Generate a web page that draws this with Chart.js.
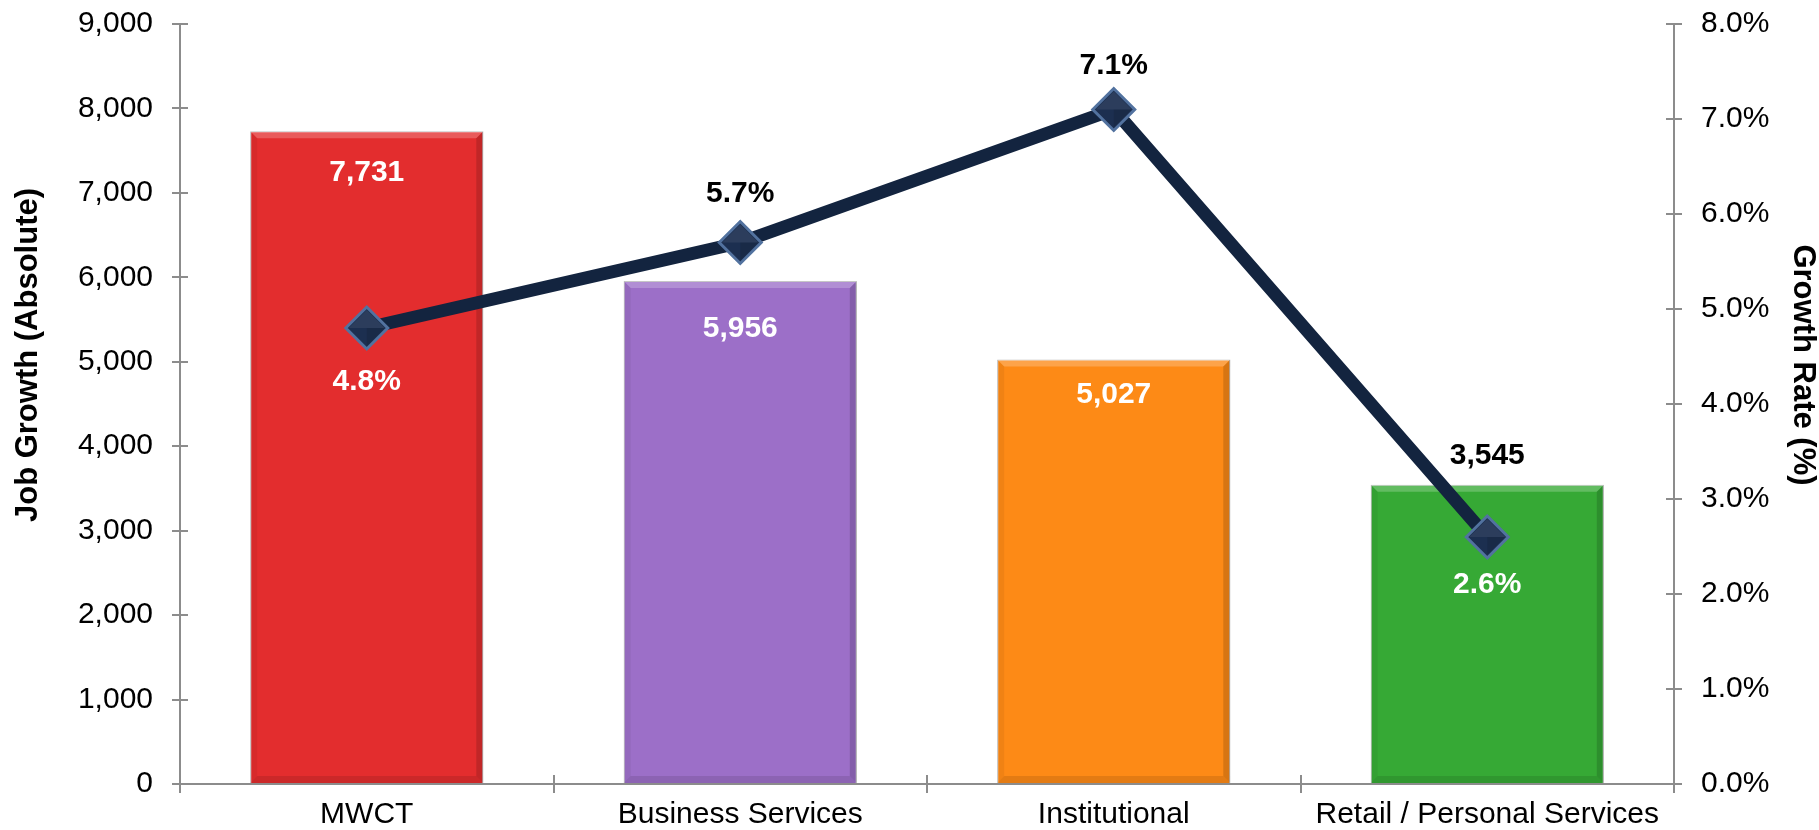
<!DOCTYPE html>
<html>
<head>
<meta charset="utf-8">
<script src="https://cdn.jsdelivr.net/npm/chart.js@4.4.1/dist/chart.umd.min.js"></script>
<style>
  html, body { margin: 0; padding: 0; background: #fff; }
</style>
</head>
<body>
<canvas id="jobsChart" width="1819" height="830"></canvas>
<script>
// --- Data ---
const categories = ['MWCT', 'Business Services', 'Institutional', 'Retail / Personal Services'];
const jobGrowth = [7731, 5956, 5027, 3545];
const growthRate = [4.8, 5.7, 7.1, 2.6];
const barColors = ['#e32d2e', '#9c6fc8', '#fd8a16', '#36a935'];
const jobAxis = { min: 0, max: 9000, step: 1000 };
const rateAxis = { min: 0, max: 8, step: 1 };

const FONT = '"Liberation Sans", Arial, sans-serif';
const AXIS_GRAY = '#8c8c8c';

// label placement: offset from bar top / point centre
const barLabelOffset = [42, 48, 35, -29];
const rateLabelOffset = [54, -49, -44, 48];

function poly(ctx, pts) {
    ctx.beginPath();
    ctx.moveTo(pts[0][0], pts[0][1]);
    for (let i = 1; i < pts.length; i++) ctx.lineTo(pts[i][0], pts[i][1]);
    ctx.closePath();
    ctx.fill();
}

// bevelled edges on each bar (light top, darker sides/bottom)
const barBevel = {
    id: 'barBevel',
    afterDatasetDraw(chart, args) {
        const ctx = chart.ctx;
        if (args.meta.type === 'bar') {
            const b = 7;
            args.meta.data.forEach(bar => {
                const l = bar.x - bar.width / 2, r = bar.x + bar.width / 2;
                const t = bar.y, btm = bar.base;
                ctx.save();
                ctx.fillStyle = 'rgba(255,255,255,0.22)';
                poly(ctx, [[l, t], [r, t], [r - b, t + b], [l + b, t + b]]);
                ctx.fillStyle = 'rgba(0,0,0,0.15)';
                poly(ctx, [[r, t], [r, btm], [r - b, btm - b], [r - b, t + b]]);
                ctx.fillStyle = 'rgba(0,0,0,0.05)';
                poly(ctx, [[l, t], [l + b, t + b], [l + b, btm - b], [l, btm]]);
                ctx.fillStyle = 'rgba(0,0,0,0.10)';
                poly(ctx, [[l, btm], [l + b, btm - b], [r - b, btm - b], [r, btm]]);
                ctx.restore();
            });
        } else if (args.meta.type === 'line') {
            // faint facets so the diamonds read as little pyramids
            args.meta.data.forEach(pt => {
                const r = pt.options.radius - 3;
                ctx.save();
                ctx.fillStyle = 'rgba(255,255,255,0.07)';
                poly(ctx, [[pt.x - r, pt.y], [pt.x, pt.y - r], [pt.x + r, pt.y], [pt.x, pt.y]]);
                ctx.fillStyle = 'rgba(0,0,0,0.10)';
                poly(ctx, [[pt.x, pt.y], [pt.x + r, pt.y], [pt.x, pt.y + r]]);
                ctx.restore();
            });
        }
    }
};

// tick marks that cross the axis lines
const crossTicks = {
    id: 'crossTicks',
    afterDraw(chart) {
        const { ctx, chartArea, scales } = chart;
        ctx.save();
        ctx.strokeStyle = AXIS_GRAY;
        ctx.lineWidth = 2;
        ctx.beginPath();
        scales.y.ticks.forEach((t, i) => {
            const py = Math.round(scales.y.getPixelForTick(i));
            ctx.moveTo(chartArea.left, py);
            ctx.lineTo(chartArea.left + 8, py);
        });
        scales.y1.ticks.forEach((t, i) => {
            const py = Math.round(scales.y1.getPixelForTick(i));
            ctx.moveTo(chartArea.right - 8, py);
            ctx.lineTo(chartArea.right, py);
        });
        const x = scales.x;
        const step = x.getPixelForTick(1) - x.getPixelForTick(0);
        for (let i = 0; i <= categories.length; i++) {
            const px = Math.round(x.getPixelForTick(0) - step / 2 + i * step);
            ctx.moveTo(px, chartArea.bottom);
            ctx.lineTo(px, chartArea.bottom - 9);
        }
        ctx.stroke();
        ctx.restore();
    }
};

// axis titles, rotated on both sides
const axisTitles = {
    id: 'axisTitles',
    afterDraw(chart) {
        const { ctx, chartArea } = chart;
        const midY = (chartArea.top + chartArea.bottom) / 2;
        ctx.save();
        ctx.font = 'bold 31px ' + FONT;
        ctx.fillStyle = '#000';
        ctx.textAlign = 'center';
        ctx.textBaseline = 'middle';

        ctx.save();
        ctx.translate(28, midY - 49);
        ctx.rotate(-Math.PI / 2);
        ctx.fillText('Job Growth (Absolute)', 0, 0);
        ctx.restore();

        ctx.save();
        ctx.translate(chart.width - 16, midY - 39);
        ctx.rotate(Math.PI / 2);
        ctx.fillText('Growth Rate (%)', 0, 0);
        ctx.restore();

        ctx.restore();
    }
};

// value labels on bars and line points
const valueLabels = {
    id: 'valueLabels',
    afterDatasetsDraw(chart) {
        const ctx = chart.ctx;
        const points = chart.getDatasetMeta(0).data;
        const bars = chart.getDatasetMeta(1).data;
        ctx.save();
        ctx.font = 'bold 30px ' + FONT;
        ctx.textAlign = 'center';
        ctx.textBaseline = 'middle';
        bars.forEach((bar, i) => {
            ctx.fillStyle = barLabelOffset[i] > 0 ? '#fff' : '#000';
            ctx.fillText(jobGrowth[i].toLocaleString('en-US'), bar.x, bar.y + barLabelOffset[i]);
        });
        points.forEach((pt, i) => {
            ctx.fillStyle = rateLabelOffset[i] > 0 ? '#fff' : '#000';
            ctx.fillText(growthRate[i].toFixed(1) + '%', pt.x, pt.y + rateLabelOffset[i]);
        });
        ctx.restore();
    }
};

const tickFont = { family: FONT, size: 30 };

new Chart(document.getElementById('jobsChart'), {
    type: 'bar',
    data: {
        labels: categories,
        datasets: [{
            type: 'line',
            label: 'Growth Rate',
            data: growthRate,
            yAxisID: 'y1',
            order: 0,
            borderColor: '#13243f',
            borderWidth: 13,
            tension: 0,
            pointStyle: 'rectRot',
            pointRadius: 21,
            pointHoverRadius: 21,
            pointBackgroundColor: '#1c2f50',
            pointBorderColor: '#52729f',
            pointBorderWidth: 3
        }, {
            type: 'bar',
            label: 'Job Growth',
            data: jobGrowth,
            yAxisID: 'y',
            order: 1,
            backgroundColor: barColors,
            borderColor: 'rgba(90,90,90,0.45)',
            borderWidth: 1,
            borderSkipped: 'bottom',
            barPercentage: 0.624,
            categoryPercentage: 1
        }]
    },
    options: {
        responsive: false,
        animation: false,
        layout: { autoPadding: false, padding: { top: 24, left: 0, right: 0, bottom: 0 } },
        plugins: {
            legend: { display: false },
            tooltip: { enabled: false }
        },
        scales: {
            x: {
                grid: { drawOnChartArea: false, offset: true, tickLength: 9, color: AXIS_GRAY, lineWidth: 2 },
                border: { color: AXIS_GRAY, width: 2 },
                ticks: { color: '#000', font: tickFont, padding: 4, maxRotation: 0 },
                afterFit(scale) { scale.height = 46; }
            },
            y: {
                position: 'left',
                min: jobAxis.min,
                max: jobAxis.max,
                grid: { drawOnChartArea: false, tickLength: 8, color: AXIS_GRAY, lineWidth: 2 },
                border: { color: AXIS_GRAY, width: 2 },
                ticks: {
                    stepSize: jobAxis.step,
                    color: '#000',
                    font: tickFont,
                    padding: 19,
                    callback: v => v.toLocaleString('en-US')
                },
                afterFit(scale) { scale.width = 180; scale.paddingTop = 0; scale.paddingBottom = 0; }
            },
            y1: {
                position: 'right',
                min: rateAxis.min,
                max: rateAxis.max,
                grid: { drawOnChartArea: false, tickLength: 8, color: AXIS_GRAY, lineWidth: 2 },
                border: { color: AXIS_GRAY, width: 2 },
                ticks: {
                    stepSize: rateAxis.step,
                    color: '#000',
                    font: tickFont,
                    padding: 19,
                    callback: v => v.toFixed(1) + '%'
                },
                afterFit(scale) { scale.width = 145; scale.paddingTop = 0; scale.paddingBottom = 0; }
            }
        }
    },
    plugins: [barBevel, crossTicks, axisTitles, valueLabels]
});
</script>
</body>
</html>
